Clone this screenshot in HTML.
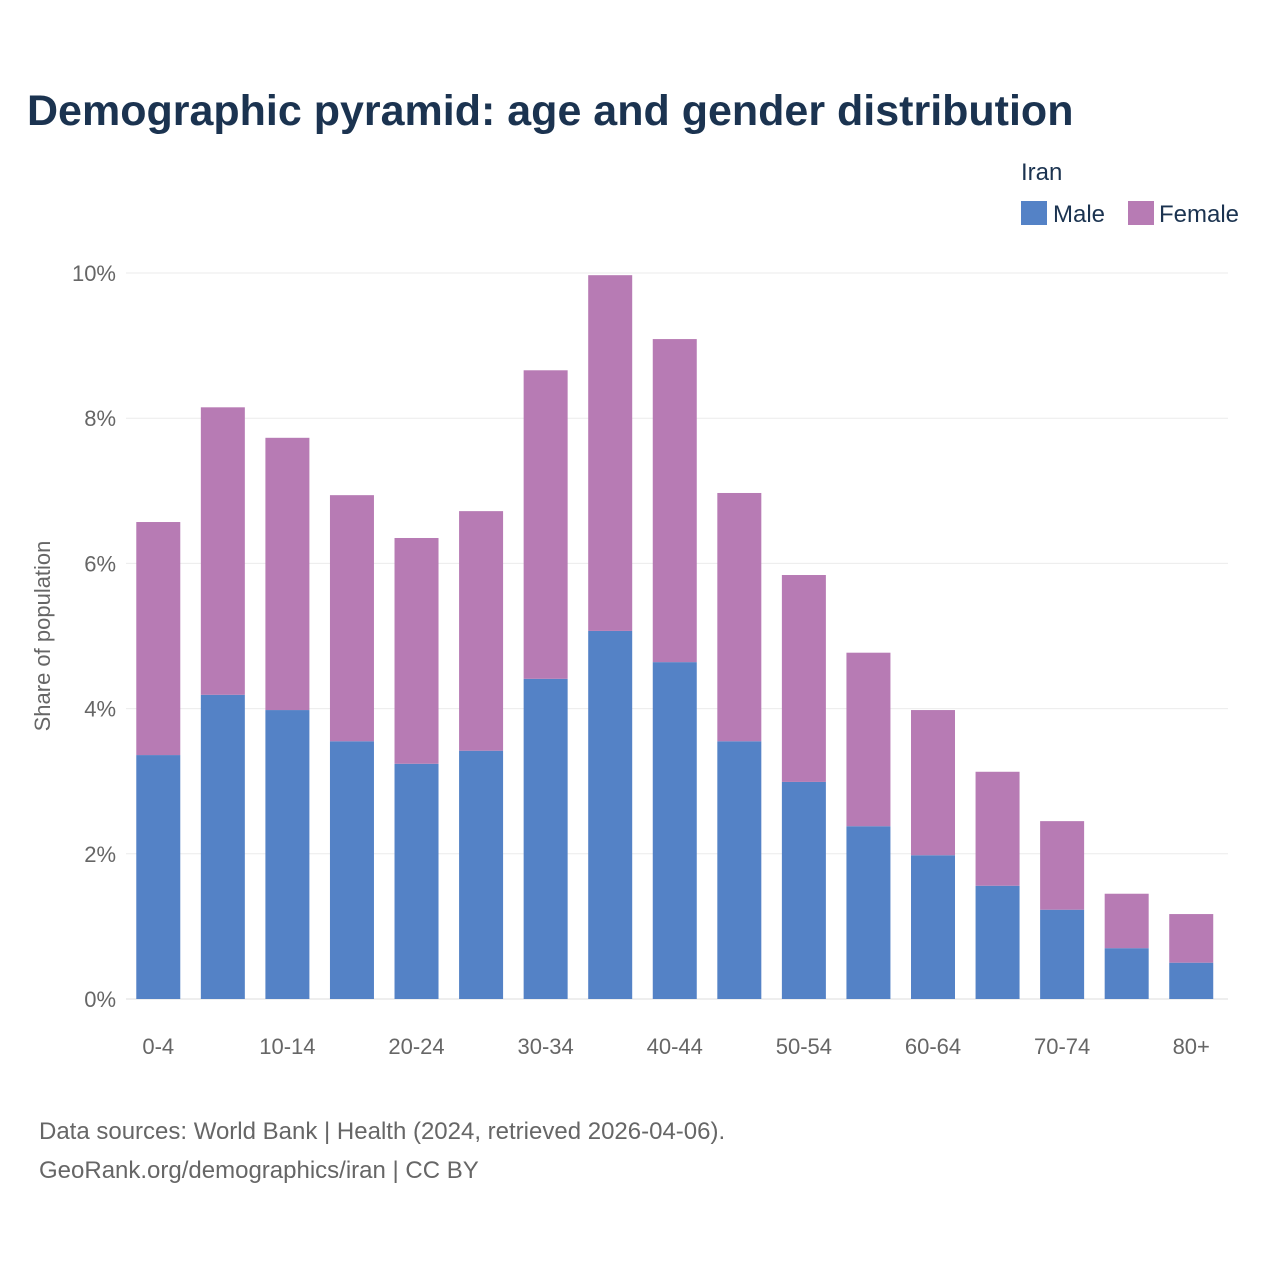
<!DOCTYPE html>
<html><head><meta charset="utf-8"><style>
html,body{margin:0;padding:0;background:#fff;}
svg text{font-family:"Liberation Sans",sans-serif;}
</style></head><body>
<svg id="chart" width="1280" height="1280" viewBox="0 0 1280 1280" xmlns="http://www.w3.org/2000/svg">
<rect width="1280" height="1280" fill="#fff"/>
<text x="27" y="125" font-size="43" font-weight="bold" fill="#1b3350">Demographic pyramid: age and gender distribution</text>
<text x="1021" y="180" font-size="24" fill="#1b3350">Iran</text>
<g><rect x="1021" y="201" width="26" height="24" fill="#5482c6"/><text x="1053" y="222" font-size="24" fill="#1b3350">Male</text></g>
<g><rect x="1128" y="201" width="26" height="24" fill="#b77bb4"/><text x="1159" y="222" font-size="24" fill="#1b3350">Female</text></g>
<text transform="translate(50,636) rotate(-90)" text-anchor="middle" font-size="22" fill="#666">Share of population</text>
<g id="grid"></g><g id="bars"></g><g id="xt"></g>
<text x="39" y="1139" font-size="24" fill="#666">Data sources: World Bank | Health (2024, retrieved 2026-04-06).</text>
<text x="39" y="1178" font-size="24" fill="#666">GeoRank.org/demographics/iran | CC BY</text>
</svg>
<script>
const categories=["0-4","5-9","10-14","15-19","20-24","25-29","30-34","35-39","40-44","45-49","50-54","55-59","60-64","65-69","70-74","75-79","80+"];
const maleValues=[3.36,4.19,3.98,3.55,3.24,3.42,4.41,5.07,4.64,3.55,2.99,2.38,1.98,1.56,1.23,0.70,0.50];
const femaleValues=[3.21,3.96,3.75,3.39,3.11,3.30,4.25,4.90,4.45,3.42,2.85,2.39,2.00,1.57,1.22,0.75,0.67];
const yTicks=[0,2,4,6,8,10];
const xLabelShown=["0-4","10-14","20-24","30-34","40-44","50-54","60-64","70-74","80+"];
const NS="http://www.w3.org/2000/svg";
const y0=999,yTop=273,yMax=10;
function y(v){return y0-(v/yMax)*(y0-yTop);}
const x0=126,step=64.56,bw=44;
function xc(i){return x0+step*(i+0.5);}
function mk(t,a,p){const e=document.createElementNS(NS,t);for(const k in a)e.setAttribute(k,a[k]);p.appendChild(e);return e;}
const grid=document.getElementById('grid'),bars=document.getElementById('bars'),xt=document.getElementById('xt');
yTicks.forEach(t=>{
  const l=mk('line',{x1:126,x2:1228,y1:y(t),y2:y(t),stroke:t===0?'#dcdcdc':'#ebebeb','stroke-width':1},grid);
  
  
  const tx=mk('text',{x:116,y:y(t)+8,'text-anchor':'end','font-size':22,fill:'#666'},grid);
  tx.textContent=t+'%';
  
  
});
categories.forEach((c,i)=>{
  const m=maleValues[i],f=femaleValues[i];
  const rm=mk('rect',{x:xc(i)-bw/2,y:y(m),width:bw,height:y0-y(m),fill:'#5482c6'},bars);
  
  
  const rf=mk('rect',{x:xc(i)-bw/2,y:y(m+f),width:bw,height:y(m)-y(m+f),fill:'#b77bb4'},bars);
  
  
  if(xLabelShown.includes(c)){
    const t=mk('text',{x:xc(i),y:1054,'text-anchor':'middle','font-size':22,fill:'#666'},xt);
    t.textContent=c;
    
    
  }
});
</script>
</body></html>
